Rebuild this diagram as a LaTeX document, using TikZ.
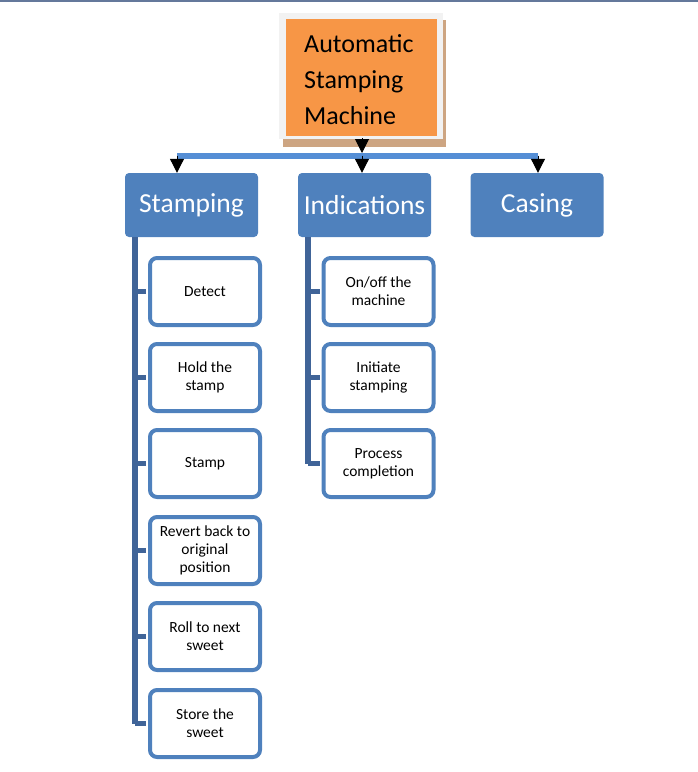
\documentclass[tikz,border=0pt]{standalone}
\usepackage{fontspec}
\setmainfont{Carlito}
\usetikzlibrary{arrows.meta,positioning}
\definecolor{topline}{RGB}{100,120,155}
\definecolor{framegray}{RGB}{242,242,242}
\definecolor{shadowtan}{RGB}{205,165,130}
\definecolor{orangefill}{RGB}{247,150,70}
\definecolor{barblue}{RGB}{85,142,213}
\definecolor{boxblue}{RGB}{79,129,189}
\definecolor{trunkblue}{RGB}{64,100,152}
\tikzset{
  mainbox/.style={rectangle, rounded corners=4pt, fill=boxblue, text=white,
    minimum width=133pt, minimum height=64pt, inner sep=0pt,
    font=\fontsize{27.5}{30}\selectfont},
  childbox/.style={rectangle, rounded corners=7pt, draw=boxblue, line width=4pt,
    fill=white, minimum width=110pt, minimum height=67pt, inner sep=0pt,
    align=center, font=\fontsize{15.5}{18}\selectfont},
  arr/.style={draw=black, line width=1pt, -{Triangle[length=14pt,width=14pt]}},
  trunk/.style={draw=trunkblue, line width=6pt},
  branch/.style={draw=trunkblue, line width=5pt},
}
\begin{document}
\begin{tikzpicture}[x=1pt,y=-1pt]
\useasboundingbox (0,0) rectangle (698,772);
% top rule
\draw[topline, line width=2pt] (0,1) -- (698,1);
% title box with shadow and frame
\fill[shadowtan] (283,20) rectangle (446,147);
\fill[framegray] (279,13) rectangle (443,139);
\node[rectangle, fill=orangefill, minimum width=151pt, minimum height=117pt, inner sep=0pt] (title) at (361.5,77.5) {};
\node[anchor=west, align=left, inner sep=0pt, font=\fontsize{26}{36}\selectfont] (titletext) at (304,80) {Automatic\\Stamping\\Machine};
% bar
\coordinate (bl) at (177,155.5);
\coordinate (bm) at (362,155.5);
\coordinate (br) at (538,155.5);
\draw[barblue, line width=6pt] (bl) -- (br);
\coordinate (tb) at (362,138);
\draw[arr] (tb) -- (362,153);
% main boxes
\node[mainbox] (stamp) at (191.5,205) {Stamping};
\node[mainbox] (ind) at (364.5,205) {Indications};
\node[mainbox] (cas) at (537,205) {Casing};
\draw[arr] (bl) -- (bl |- stamp.north);
\draw[arr] (bm) -- (bm |- ind.north);
\draw[arr] (br) -- (br |- cas.north);
% stamping children
\node[childbox] (s1) at (205,291.5) {Detect};
\node[childbox] (s2) at (205,377.5) {Hold the\\stamp};
\node[childbox] (s3) at (205,463.5) {Stamp};
\node[childbox] (s4) at (205,550.5) {Revert back to\\original\\position};
\node[childbox] (s5) at (205,636.5) {Roll to next\\sweet};
\node[childbox] (s6) at (205,723.5) {Store the\\sweet};
\coordinate (st) at (135,237);
\draw[trunk] (st) -- (st |- s6.west);
\foreach \n in {s1,s2,s3,s4,s5,s6} {\draw[branch] (st |- \n.west) -- ([xshift=-2pt]\n.west);}
% indications children
\node[childbox] (i1) at (378.5,291.5) {On/off the\\machine};
\node[childbox] (i2) at (378.5,377.5) {Initiate\\stamping};
\node[childbox] (i3) at (378.5,463.5) {Process\\completion};
\coordinate (it) at (308,237);
\draw[trunk] (it) -- (it |- i3.west);
\foreach \n in {i1,i2,i3} {\draw[branch] (it |- \n.west) -- ([xshift=-2pt]\n.west);}
\end{tikzpicture}
\end{document}
